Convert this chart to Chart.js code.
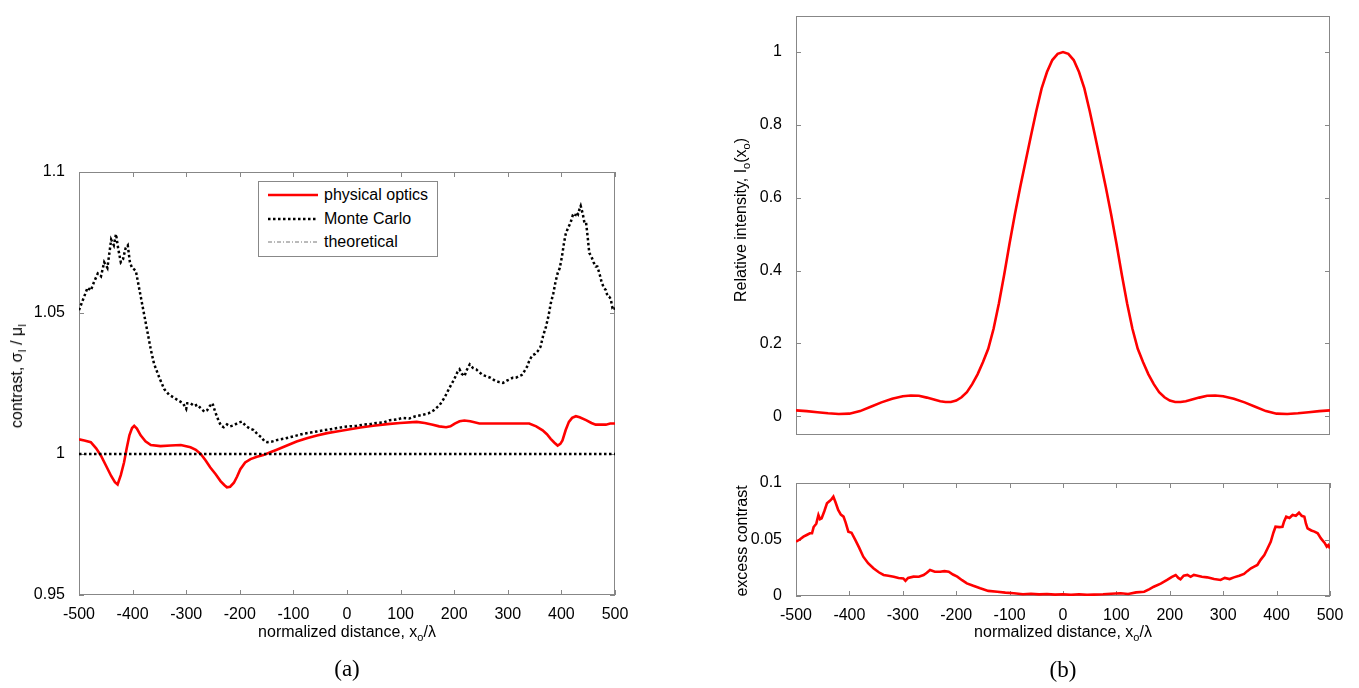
<!DOCTYPE html>
<html>
<head>
<meta charset="utf-8">
<script src="https://cdn.jsdelivr.net/npm/chart.js@4.4.1/dist/chart.umd.min.js"></script>
<style>
  body { margin: 0; background: #fff; }
  #page { position: relative; width: 1359px; height: 688px; overflow: hidden; font-family: "Liberation Sans", Arial, sans-serif; color: #000; }
  .box { position: absolute; }
  .lbl { position: absolute; font-size: 16px; white-space: nowrap; transform: translate(-50%, -50%); }
  .rot { transform: translate(-50%, -50%) rotate(-90deg); }
  .cap { position: absolute; font-family: "Liberation Serif", "Times New Roman", serif; font-size: 23px; transform: translate(-50%, -50%); }
  sub { font-size: 11px; vertical-align: -4px; }
  #legend { position: absolute; left: 258px; top: 181px; width: 178px; height: 74px; border: 1px solid #888; background: #fff; font-size: 16px; }
  #legend .row { position: absolute; left: 9px; height: 20px; display: flex; align-items: center; }
  #legend svg { margin-right: 6px; }
</style>
</head>
<body>
<div id="page">
  <div class="box" style="left:0;top:150px;"><canvas id="contrastChart" width="650" height="480"></canvas></div>
  <div class="box" style="left:700px;top:0;"><canvas id="intensityChart" width="659" height="450"></canvas></div>
  <div class="box" style="left:700px;top:460px;"><canvas id="excessChart" width="659" height="170"></canvas></div>

  <div class="lbl rot" style="left:18px;top:376px;">contrast, σ<sub>I</sub> / μ<sub>I</sub></div>
  <div class="lbl" style="left:347px;top:633px;">normalized distance, x<sub>o</sub>/λ</div>
  <div class="cap" style="left:347px;top:669px;">(a)</div>

  <div class="lbl rot" style="left:742px;top:220px;">Relative intensity, I<sub>o</sub>(x<sub>o</sub>)</div>
  <div class="lbl rot" style="left:742px;top:541px;">excess contrast</div>
  <div class="lbl" style="left:1063px;top:633px;">normalized distance, x<sub>o</sub>/λ</div>
  <div class="cap" style="left:1063px;top:670px;">(b)</div>

  <div id="legend">
    <div class="row" style="top:3px;"><svg width="50" height="6"><line x1="0" y1="3" x2="50" y2="3" stroke="#ff0000" stroke-width="2.5"/></svg>physical optics</div>
    <div class="row" style="top:27px;"><svg width="50" height="6"><line x1="0" y1="3" x2="50" y2="3" stroke="#000" stroke-width="2.5" stroke-dasharray="2.5 2.5"/></svg>Monte Carlo</div>
    <div class="row" style="top:50px;"><svg width="50" height="6"><line x1="0" y1="3" x2="50" y2="3" stroke="#777" stroke-width="1" stroke-dasharray="4 2 1 2"/></svg>theoretical</div>
  </div>
</div>

<script>
// tick labels
const distTicks = [-500, -400, -300, -200, -100, 0, 100, 200, 300, 400, 500];
const contrastTicks = [0.95, 1, 1.05, 1.1];
const intensityTicks = [0, 0.2, 0.4, 0.6, 0.8, 1];
const excessTicks = [0, 0.05, 0.1];

// (a) physical optics
const poX = [-500, -490, -478, -468, -459, -450, -440, -433, -428, -422, -416, -411, -406, -401, -397, -392, -385, -376, -366, -348, -329, -310, -292, -282, -273, -264, -255, -245, -236, -229, -224, -218, -211, -205, -199, -190, -180, -168, -156, -143, -131, -112, -94, -75, -56, -37, -19, 0, 25, 49, 75, 99, 130, 145, 160, 172, 185, 193, 201, 210, 219, 230, 247, 270, 297, 320, 340, 353, 365, 373, 380, 387, 393, 398, 402, 408, 414, 420, 427, 434, 446, 456, 464, 483, 491, 500];
const poY = [1.0052, 1.0048, 1.0042, 1.002, 0.9994, 0.996, 0.9922, 0.990, 0.9892, 0.9925, 0.997, 1.002, 1.0066, 1.0092, 1.010, 1.009, 1.0066, 1.0045, 1.0032, 1.0028, 1.003, 1.0032, 1.0024, 1.0015, 1.000, 0.9978, 0.9952, 0.9928, 0.9904, 0.989, 0.9882, 0.9884, 0.9898, 0.992, 0.9946, 0.997, 0.9982, 0.999, 0.9996, 1.0006, 1.0015, 1.003, 1.0044, 1.0056, 1.0066, 1.0074, 1.008, 1.0086, 1.0094, 1.010, 1.0106, 1.011, 1.0114, 1.011, 1.0104, 1.0098, 1.0095, 1.0098, 1.0108, 1.0116, 1.0119, 1.0116, 1.0108, 1.0108, 1.0108, 1.0108, 1.0108, 1.0098, 1.0084, 1.007, 1.0054, 1.004, 1.003, 1.0036, 1.0048, 1.0085, 1.0114, 1.0128, 1.0134, 1.013, 1.012, 1.011, 1.0104, 1.0104, 1.0108, 1.0108];

// (a) Monte Carlo
const mcX = [-500, -496, -490, -484, -478, -472, -465, -459, -453, -447, -440, -435, -431, -427, -422, -418, -413, -409, -405, -401, -394, -385, -378, -372, -366, -360, -350, -341, -332, -323, -315, -306, -300, -298, -292, -285, -279, -272, -266, -261, -256, -251, -246, -240, -235, -230, -224, -218, -211, -204, -196, -189, -181, -174, -167, -160, -154, -149, -140, -130, -118, -105, -93, -81, -68, -56, -44, -30, -18, -7, 5, 18, 30, 43, 55, 68, 80, 92, 104, 116, 128, 140, 152, 162, 173, 182, 191, 200, 206, 210, 214, 219, 224, 229, 235, 241, 247, 253, 260, 268, 276, 284, 291, 298, 304, 309, 315, 320, 326, 331, 336, 341, 346, 351, 356, 361, 366, 371, 376, 380, 385, 389, 393, 397, 401, 405, 408, 412, 417, 421, 425, 428, 431, 434, 436, 440, 443, 446, 449, 452, 456, 460, 464, 467, 471, 475, 479, 483, 486, 489, 492, 495, 498, 500];
const mcY = [1.051, 1.053, 1.056, 1.059, 1.058, 1.061, 1.064, 1.063, 1.068, 1.066, 1.076, 1.074, 1.078, 1.073, 1.068, 1.069, 1.073, 1.074, 1.068, 1.066, 1.065, 1.056, 1.049, 1.043, 1.037, 1.032, 1.027, 1.023, 1.021, 1.020, 1.019, 1.018, 1.016, 1.018, 1.018, 1.017, 1.0175, 1.016, 1.015, 1.0155, 1.017, 1.018, 1.015, 1.012, 1.010, 1.0095, 1.0105, 1.0098, 1.0102, 1.011, 1.0115, 1.010, 1.009, 1.0085, 1.007, 1.006, 1.0045, 1.0042, 1.0044, 1.005, 1.0054, 1.006, 1.0066, 1.0072, 1.0076, 1.008, 1.0084, 1.0088, 1.0092, 1.0096, 1.0098, 1.010, 1.0104, 1.0106, 1.011, 1.0112, 1.012, 1.0122, 1.0128, 1.0126, 1.0134, 1.0138, 1.0144, 1.0155, 1.0174, 1.020, 1.0234, 1.0265, 1.029, 1.030, 1.0285, 1.0276, 1.030, 1.0318, 1.0305, 1.030, 1.029, 1.028, 1.0276, 1.027, 1.026, 1.0255, 1.0252, 1.026, 1.0265, 1.027, 1.027, 1.0275, 1.028, 1.0294, 1.031, 1.0335, 1.035, 1.0355, 1.0365, 1.038, 1.042, 1.045, 1.049, 1.0533, 1.057, 1.061, 1.0641, 1.066, 1.070, 1.075, 1.078, 1.080, 1.082, 1.0845, 1.084, 1.0857, 1.085, 1.087, 1.088, 1.085, 1.082, 1.0821, 1.077, 1.0713, 1.070, 1.068, 1.0665, 1.0665, 1.064, 1.061, 1.059, 1.0581, 1.056, 1.0558, 1.055, 1.052, 1.0525, 1.051];

// (a) theoretical
const theoryX = [-500, 500];
const theoryY = [1, 1];

// (b) relative intensity
const intX = [-500, -480, -460, -440, -420, -400, -380, -360, -340, -320, -300, -285, -270, -255, -240, -230, -220, -210, -200, -190, -180, -170, -160, -150, -140, -130, -120, -110, -100, -90, -80, -70, -60, -50, -40, -30, -20, -10, 0, 10, 20, 30, 40, 50, 60, 70, 80, 90, 100, 110, 120, 130, 140, 150, 160, 170, 180, 190, 200, 210, 220, 230, 240, 255, 270, 285, 300, 320, 340, 360, 380, 400, 420, 440, 460, 480, 500];
const intY = [0.016, 0.014, 0.011, 0.008, 0.006, 0.007, 0.014, 0.026, 0.038, 0.048, 0.055, 0.057, 0.056, 0.051, 0.045, 0.041, 0.039, 0.039, 0.043, 0.052, 0.066, 0.088, 0.115, 0.148, 0.185, 0.24, 0.31, 0.39, 0.475, 0.555, 0.63, 0.70, 0.77, 0.838, 0.90, 0.945, 0.978, 0.995, 1.0, 0.995, 0.978, 0.945, 0.90, 0.838, 0.77, 0.70, 0.63, 0.555, 0.475, 0.39, 0.31, 0.24, 0.185, 0.148, 0.115, 0.088, 0.066, 0.052, 0.043, 0.039, 0.039, 0.041, 0.045, 0.051, 0.056, 0.057, 0.055, 0.048, 0.038, 0.026, 0.014, 0.007, 0.006, 0.008, 0.011, 0.014, 0.016];

// (b) excess contrast
const exX = [-500, -493, -486, -480, -474, -470, -467, -462, -458, -455, -452, -447, -442, -437, -433, -430, -426, -421, -416, -411, -407, -402, -396, -389, -382, -374, -365, -355, -345, -336, -327, -317, -308, -299, -295, -290, -280, -270, -261, -255, -249, -240, -230, -222, -214, -206, -198, -189, -180, -168, -155, -140, -123, -108, -92, -75, -60, -45, -30, -15, 0, 15, 30, 45, 58, 75, 90, 108, 122, 137, 152, 162, 170, 183, 195, 204, 211, 216, 220, 226, 233, 239, 245, 252, 260, 270, 283, 295, 303, 312, 320, 330, 339, 345, 352, 358, 364, 370, 377, 383, 389, 394, 398, 405, 411, 414, 418, 424, 430, 436, 442, 447, 452, 455, 458, 465, 471, 477, 483, 490, 494, 497, 500];
const exY = [0.048, 0.050, 0.0525, 0.054, 0.0555, 0.0555, 0.061, 0.064, 0.0717, 0.068, 0.0688, 0.075, 0.082, 0.084, 0.086, 0.0879, 0.083, 0.0761, 0.072, 0.0702, 0.065, 0.0569, 0.056, 0.0496, 0.043, 0.0348, 0.029, 0.0245, 0.021, 0.0186, 0.018, 0.0171, 0.016, 0.0156, 0.0135, 0.016, 0.0171, 0.017, 0.0186, 0.0205, 0.023, 0.0215, 0.0215, 0.022, 0.0215, 0.019, 0.0171, 0.014, 0.0112, 0.009, 0.0068, 0.0045, 0.0038, 0.003, 0.0024, 0.0016, 0.002, 0.0014, 0.0018, 0.0012, 0.0015, 0.001, 0.0015, 0.001, 0.0012, 0.0015, 0.002, 0.0024, 0.0018, 0.0032, 0.0038, 0.006, 0.0082, 0.011, 0.0142, 0.017, 0.0186, 0.016, 0.0148, 0.018, 0.0186, 0.017, 0.0186, 0.018, 0.017, 0.0165, 0.015, 0.0142, 0.016, 0.015, 0.0165, 0.018, 0.0195, 0.022, 0.0245, 0.026, 0.0274, 0.032, 0.0363, 0.042, 0.048, 0.056, 0.0613, 0.061, 0.0613, 0.066, 0.0702, 0.069, 0.0717, 0.071, 0.0737, 0.071, 0.0702, 0.064, 0.0599, 0.058, 0.057, 0.0555, 0.051, 0.047, 0.0436, 0.045, 0.042];

Chart.defaults.font.family = '"Liberation Sans", Arial, sans-serif';
Chart.defaults.font.size = 16;
Chart.defaults.color = '#000';
Chart.defaults.animation = false;

function toPoints(xs, ys) {
    return xs.map((x, i) => ({ x: x, y: ys[i] }));
}

// matlab style box with inward tick marks
function boxPlugin(drawX) {
    return {
        id: 'boxTicks',
        beforeDatasetsDraw(chart) {
            const ctx = chart.ctx;
            const a = chart.chartArea;
            const len = 5;
            ctx.save();
            ctx.strokeStyle = '#878787';
            ctx.lineWidth = 1;
            ctx.strokeRect(Math.round(a.left) + 0.5, Math.round(a.top) + 0.5, Math.round(a.width) - 1, Math.round(a.height) - 1);
            ctx.beginPath();
            if (drawX) {
                chart.scales.x.ticks.forEach(t => {
                    const px = Math.round(chart.scales.x.getPixelForValue(t.value)) + 0.5;
                    ctx.moveTo(px, a.bottom); ctx.lineTo(px, a.bottom - len);
                    ctx.moveTo(px, a.top); ctx.lineTo(px, a.top + len);
                });
            }
            chart.scales.y.ticks.forEach(t => {
                const py = Math.round(chart.scales.y.getPixelForValue(t.value)) + 0.5;
                ctx.moveTo(a.left, py); ctx.lineTo(a.left + len, py);
                ctx.moveTo(a.right, py); ctx.lineTo(a.right - len, py);
            });
            ctx.stroke();
            ctx.restore();
        }
    };
}

function xAxis(showLabels, height) {
    return {
        type: 'linear',
        min: -500,
        max: 500,
        display: true,
        afterBuildTicks: s => { s.ticks = distTicks.map(v => ({ value: v })); },
        afterFit: s => { s.height = height; },
        grid: { display: false },
        border: { display: false },
        ticks: {
            display: showLabels,
            autoSkip: false,
            maxRotation: 0,
            padding: 2,
            callback: v => String(v)
        }
    };
}

function yAxis(min, max, tickVals, width) {
    return {
        type: 'linear',
        min: min,
        max: max,
        afterBuildTicks: s => { s.ticks = tickVals.map(v => ({ value: v })); },
        afterFit: s => { s.width = width; },
        grid: { display: false },
        border: { display: false },
        ticks: {
            autoSkip: false,
            padding: 6,
            callback: v => String(v)
        }
    };
}

function lineSet(label, xs, ys, color, width, dash) {
    return {
        label: label,
        data: toPoints(xs, ys),
        borderColor: color,
        borderWidth: width,
        borderDash: dash || [],
        pointRadius: 0,
        tension: 0,
        fill: false
    };
}

const commonPlugins = { legend: { display: false }, tooltip: { enabled: false } };

new Chart(document.getElementById('contrastChart').getContext('2d'), {
    type: 'line',
    data: {
        datasets: [
            lineSet('theoretical', theoryX, theoryY, '#000', 2.5, [2.5, 2.5]),
            lineSet('Monte Carlo', mcX, mcY, '#000', 2.5, [2.5, 2.5]),
            lineSet('physical optics', poX, poY, '#ff0000', 2.6)
        ]
    },
    options: {
        responsive: false,
        layout: { padding: { top: 22, right: 35, bottom: 0, left: 0 } },
        plugins: commonPlugins,
        scales: {
            x: xAxis(true, 35),
            y: yAxis(0.95, 1.1, contrastTicks, 79)
        }
    },
    plugins: [boxPlugin(true)]
});

new Chart(document.getElementById('intensityChart').getContext('2d'), {
    type: 'line',
    data: {
        datasets: [lineSet('intensity', intX, intY, '#ff0000', 2.6)]
    },
    options: {
        responsive: false,
        layout: { padding: { top: 11, right: 29, bottom: 11, left: 0 } },
        plugins: commonPlugins,
        scales: {
            x: Object.assign(xAxis(false, 0), { display: false }),
            y: yAxis(-0.05, 1.1, intensityTicks, 96)
        }
    },
    plugins: [boxPlugin(false)]
});

new Chart(document.getElementById('excessChart').getContext('2d'), {
    type: 'line',
    data: {
        datasets: [lineSet('excess contrast', exX, exY, '#ff0000', 2.6)]
    },
    options: {
        responsive: false,
        layout: { padding: { top: 23, right: 29, bottom: 0, left: 0 } },
        plugins: commonPlugins,
        scales: {
            x: xAxis(true, 34),
            y: yAxis(0, 0.1, excessTicks, 96)
        }
    },
    plugins: [boxPlugin(true)]
});
</script>
</body>
</html>
